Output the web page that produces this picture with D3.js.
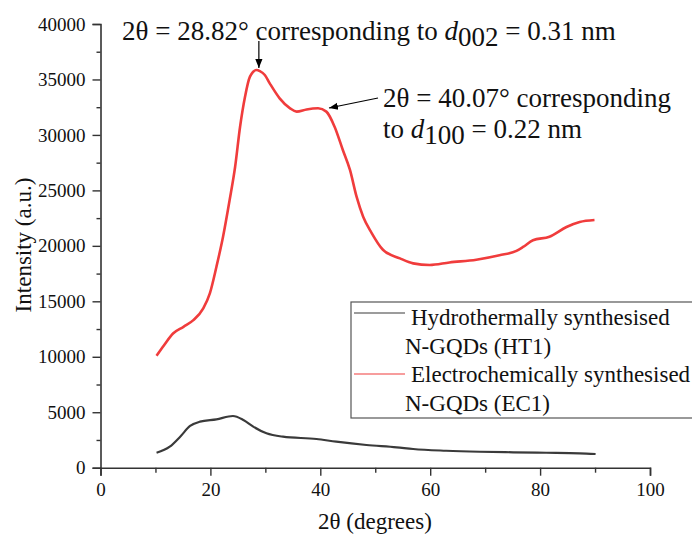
<!DOCTYPE html>
<html>
<head>
<meta charset="utf-8">
<script src="https://cdn.jsdelivr.net/npm/d3@7/dist/d3.min.js"></script>
<style>
  body { margin: 0; background: #fff; }
  svg { display: block; }
  text { font-family: "Liberation Serif", "Times New Roman", serif; fill: #111; }
</style>
</head>
<body>
<svg id="chart" width="692" height="535"></svg>
<script>
// ---- Data ----
const ecX = [10.2, 11.5, 13.2, 15.1, 16.9, 18.7, 19.9, 21.1, 22.3, 23.5, 24.5, 25.4, 26.3, 27.2, 28.4, 29.0, 29.9, 30.8, 32.6, 34.5, 35.7, 37.5, 39.6, 41.1, 42.6, 44.1, 45.4, 46.6, 47.8, 49.3, 51.4, 54.5, 56.9, 59.9, 63.5, 68.4, 72.6, 75.7, 76.9, 78.7, 81.7, 84.8, 87.2, 89.9];
const ecY = [10100, 11000, 12100, 12700, 13300, 14370, 15720, 18120, 20820, 24130, 27130, 30740, 33445, 35250, 35850, 35750, 35400, 34650, 33300, 32400, 32100, 32300, 32400, 32100, 30740, 28640, 26840, 24430, 22630, 21200, 19650, 18870, 18420, 18270, 18500, 18750, 19150, 19550, 19900, 20500, 20820, 21700, 22150, 22330];
const htX = [10.2, 12.6, 14.5, 16.3, 18.1, 21.1, 24.1, 26.0, 27.8, 30.2, 33.2, 39.3, 42.9, 48.4, 53.9, 56.9, 62.9, 69.0, 75.1, 81.1, 87.2, 90.1];
const htY = [1350, 1890, 2795, 3760, 4150, 4360, 4660, 4300, 3700, 3100, 2795, 2590, 2345, 2045, 1840, 1685, 1530, 1440, 1390, 1350, 1300, 1235];
const xTicks = [0, 20, 40, 60, 80, 100];
const yTicks = [0, 5000, 10000, 15000, 20000, 25000, 30000, 35000, 40000];
const seriesNames = ["Hydrothermally synthesised", "N-GQDs (HT1)", "Electrochemically synthesised", "N-GQDs (EC1)"];
const seriesColors = ["#3a3a3a", "#f03c3c"];

const svg = d3.select("#chart");
const x = d3.scaleLinear().domain([0, 100]).range([100.5, 650]);
const y = d3.scaleLinear().domain([0, 40000]).range([467.7, 24]);
const axisColor = "#333";

// Y axis
const gy = svg.append("g").attr("transform", `translate(${x(0)},0)`);
gy.call(d3.axisLeft(y).tickValues(yTicks).tickSize(8).tickPadding(7).tickFormat(d3.format("d")));
gy.append("g").call(d3.axisLeft(y).tickValues(d3.range(2500, 40000, 5000)).tickSize(4).tickFormat(""));
// X axis
const gx = svg.append("g").attr("transform", `translate(0,${y(0)})`);
gx.call(d3.axisBottom(x).tickValues(xTicks).tickSize(8).tickPadding(7));
gx.append("g").call(d3.axisBottom(x).tickValues(d3.range(10, 100, 20)).tickSize(5).tickFormat(""));
svg.selectAll(".domain").attr("stroke", axisColor).attr("stroke-width", 1.6);
svg.selectAll(".tick line").attr("stroke", axisColor).attr("stroke-width", 1.4);
svg.selectAll(".tick text").style("font-size", "19px").style("font-family", "Liberation Serif").attr("fill", "#111");
gy.selectAll("g > .domain").filter((d, i, n) => n[i].parentNode !== gy.node()).remove();
gx.selectAll("g > .domain").filter((d, i, n) => n[i].parentNode !== gx.node()).remove();

// Lines
const line = d3.line().curve(d3.curveMonotoneX).x(d => x(d[0])).y(d => y(d[1]));
svg.append("path").datum(htX.map((v, i) => [v, htY[i]]))
  .attr("d", line).attr("fill", "none").attr("stroke", seriesColors[0]).attr("stroke-width", 2.2);
svg.append("path").datum(ecX.map((v, i) => [v, ecY[i]]))
  .attr("d", line).attr("fill", "none").attr("stroke", seriesColors[1]).attr("stroke-width", 2.6);

// Axis labels
svg.append("text").attr("transform", `translate(31,245) rotate(-90)`).attr("text-anchor", "middle")
  .style("font-size", "23px").text("Intensity (a.u.)");
svg.append("text").attr("x", 375).attr("y", 529).attr("text-anchor", "middle")
  .style("font-size", "23px").text("2θ (degrees)");

// Legend
svg.append("rect").attr("x", 351).attr("y", 302).attr("width", 360).attr("height", 116)
  .attr("fill", "#fff").attr("stroke", "#555").attr("stroke-width", 1.2);
const legRows = [325, 354, 382, 411];
svg.append("line").attr("x1", 354).attr("x2", 405).attr("y1", 313).attr("y2", 313)
  .attr("stroke", seriesColors[0]).attr("stroke-width", 1.2);
svg.append("line").attr("x1", 354).attr("x2", 405).attr("y1", 374).attr("y2", 374)
  .attr("stroke", seriesColors[1]).attr("stroke-width", 1.2);
seriesNames.forEach((t, i) => {
  svg.append("text").attr("x", i % 2 === 0 ? 411 : 405).attr("y", legRows[i])
    .style("font-size", "23px").text(t);
});

// Annotations
const defs = svg.append("defs");
defs.append("marker").attr("id", "ah").attr("viewBox", "0 0 10 10").attr("refX", 10).attr("refY", 5)
  .attr("markerWidth", 9).attr("markerHeight", 9).attr("markerUnits", "userSpaceOnUse").attr("orient", "auto")
  .append("path").attr("d", "M0,1 L10,5 L0,9 Z").attr("fill", "#000");

const t1 = svg.append("text").attr("x", 122).attr("y", 40).style("font-size", "27px");
t1.append("tspan").text("2θ = 28.82° corresponding to ");
t1.append("tspan").style("font-style", "italic").text("d");
t1.append("tspan").attr("dy", 6).text("002");
t1.append("tspan").attr("dy", -6).text(" = 0.31 nm");

const t2 = svg.append("text").attr("x", 383).attr("y", 107).style("font-size", "27px");
t2.append("tspan").text("2θ = 40.07° corresponding");
const t3 = svg.append("text").attr("x", 383).attr("y", 138).style("font-size", "27px");
t3.append("tspan").text("to ");
t3.append("tspan").style("font-style", "italic").text("d");
t3.append("tspan").attr("dy", 6).text("100");
t3.append("tspan").attr("dy", -6).text(" = 0.22 nm");

svg.append("line").attr("x1", x(28.82)).attr("x2", x(28.82)).attr("y1", 41).attr("y2", 68)
  .attr("stroke", "#000").attr("stroke-width", 1.2).attr("marker-end", "url(#ah)");
svg.append("line").attr("x1", 378).attr("x2", 329).attr("y1", 98).attr("y2", 108)
  .attr("stroke", "#000").attr("stroke-width", 1.2).attr("marker-end", "url(#ah)");
</script>
</body>
</html>
